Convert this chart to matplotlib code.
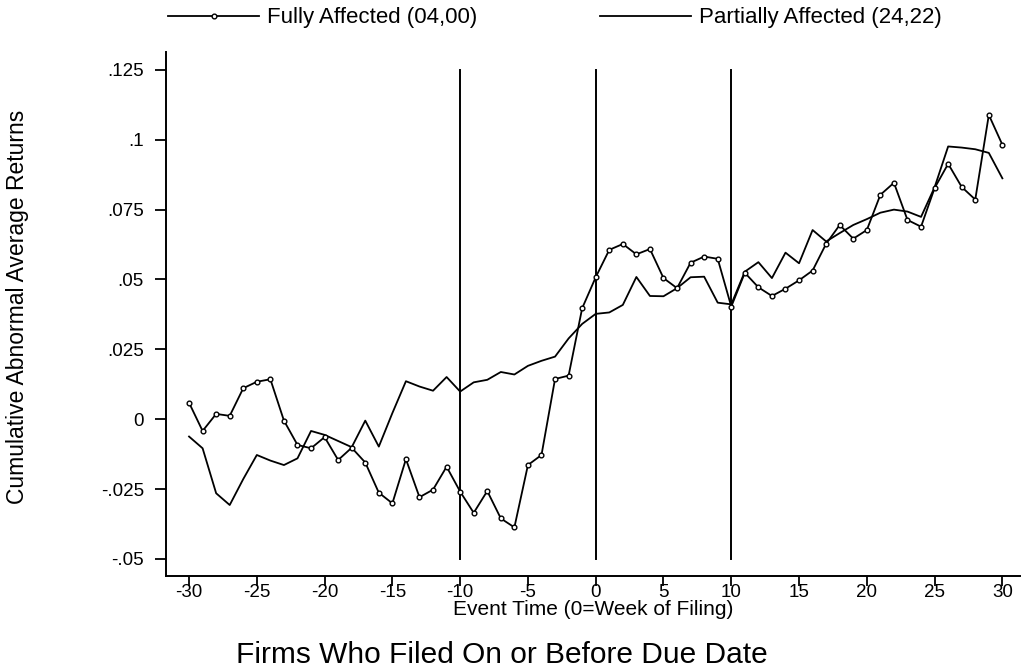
import numpy as np
import matplotlib
matplotlib.use("Agg")
import matplotlib.pyplot as plt
from matplotlib.lines import Line2D

# Event window in weeks relative to the filing week
event_time = np.arange(-30, 31)

# Cumulative abnormal average returns
fully_affected = [
    0.0059, -0.0042, 0.0019, 0.0012, 0.0111, 0.0134, 0.0143, -0.0005, -0.0092, -0.0104,
    -0.0064, -0.0146, -0.0102, -0.0155, -0.0263, -0.0301, -0.0143, -0.0279, -0.0252, -0.0170,
    -0.0259, -0.0335, -0.0257, -0.0355, -0.0387, -0.0164, -0.0128, 0.0144, 0.0156, 0.0397,
    0.0508, 0.0606, 0.0627, 0.0590, 0.0609, 0.0505, 0.0469, 0.0560, 0.0582, 0.0574,
    0.0403, 0.0524, 0.0472, 0.0441, 0.0467, 0.0497, 0.0532, 0.0628, 0.0695, 0.0646,
    0.0677, 0.0803, 0.0846, 0.0713, 0.0689, 0.0827, 0.0914, 0.0831, 0.0786, 0.1089,
    0.0982,
]
partially_affected = [
    -0.0062, -0.0104, -0.0265, -0.0307, -0.0214, -0.0128, -0.0148, -0.0164, -0.0140, -0.0042,
    -0.0056, -0.0078, -0.0100, -0.0005, -0.0098, 0.0022, 0.0136, 0.0117, 0.0102, 0.0151,
    0.0099, 0.0132, 0.0141, 0.0169, 0.0160, 0.0191, 0.0209, 0.0224, 0.0289, 0.0341,
    0.0377, 0.0382, 0.0409, 0.0509, 0.0441, 0.0440, 0.0469, 0.0508, 0.0510, 0.0417,
    0.0411, 0.0528, 0.0562, 0.0505, 0.0596, 0.0558, 0.0677, 0.0636, 0.0666, 0.0695,
    0.0716, 0.0739, 0.0750, 0.0743, 0.0724, 0.0830, 0.0976, 0.0972, 0.0966, 0.0953,
    0.0862,
]

series_labels = ["Fully Affected (04,00)", "Partially Affected (24,22)"]
reference_weeks = [-10, 0, 10]
x_ticks = list(range(-30, 31, 5))
x_tick_labels = ["-30", "-25", "-20", "-15", "-10", "-5", "0", "5", "10", "15", "20", "25", "30"]
y_ticks = [-0.05, -0.025, 0, 0.025, 0.05, 0.075, 0.1, 0.125]
y_tick_labels = ["-.05", "-.025", "0", ".025", ".05", ".075", ".1", ".125"]

plt.rcParams["font.family"] = ["Liberation Sans", "DejaVu Sans"]

fig = plt.figure(figsize=(10.24, 6.69), dpi=100)
ax = fig.add_axes([166 / 1024, 1 - 576 / 669, (1020 - 166) / 1024, (576 - 52) / 669])

# Reference weeks span the labelled y range
for wk in reference_weeks:
    ax.plot([wk, wk], [y_ticks[0], y_ticks[-1]], color="black", lw=1.4, zorder=1)

ax.plot(event_time, fully_affected, color="black", lw=1.3, marker="o",
        markersize=3.4, markerfacecolor="white", markeredgecolor="black",
        markeredgewidth=1.0, zorder=3)
ax.plot(event_time, partially_affected, color="black", lw=1.3, zorder=2)

ax.set_xlim(-31.7, 31.3)
ax.set_ylim(-0.0561, 0.1314)
ax.set_xticks(x_ticks)
ax.set_xticklabels(x_tick_labels)
ax.set_yticks(y_ticks)
ax.set_yticklabels(y_tick_labels)

for side in ("top", "right"):
    ax.spines[side].set_visible(False)
for side in ("left", "bottom"):
    ax.spines[side].set_linewidth(1.4)

ax.tick_params(axis="both", direction="out", length=8, width=1.3, labelsize=13.5, colors="black")
ax.tick_params(axis="y", pad=8)
ax.tick_params(axis="x", length=7, pad=-1)

ax.set_xlabel("Event Time (0=Week of Filing)", fontsize=15, labelpad=-1)
ax.set_ylabel("Cumulative Abnormal Average Returns", fontsize=16.5)
ax.yaxis.set_label_coords(-0.161, 0.513)

fig.text(0.49, 0.0, "Firms Who Filed On or Before Due Date", ha="center", va="bottom", fontsize=21.5)

handles = [
    Line2D([], [], color="black", lw=1.3, marker="o", markersize=3.4,
           markerfacecolor="white", markeredgecolor="black", markeredgewidth=1.0),
    Line2D([], [], color="black", lw=1.3),
]
fig.legend(handles, series_labels, loc="center left", bbox_to_anchor=(168 / 1024, 1 - 18 / 669),
           ncol=2, frameon=False, fontsize=16, handlelength=4.1, handletextpad=0.36,
           columnspacing=5.5, numpoints=1, borderaxespad=0, borderpad=0)

fig.savefig("out.png", dpi=100, facecolor="white")
